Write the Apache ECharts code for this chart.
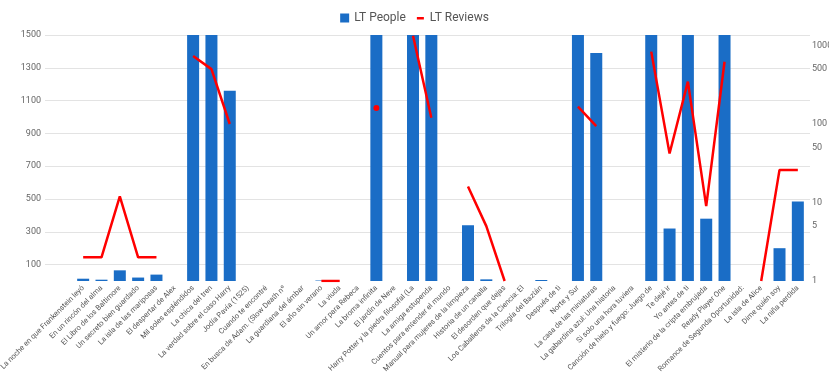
<!DOCTYPE html>
<html>
<head>
<meta charset="utf-8">
<script src="https://cdn.jsdelivr.net/npm/echarts@6/dist/echarts.min.js"></script>
<style>
  html, body { margin: 0; padding: 0; background: #fff; }
  #chart { width: 829px; height: 372px; }
</style>
</head>
<body>
<div id="chart"></div>
<script>
// Book titles along the horizontal axis
const books = [
  'La noche en que Frankenstein leyó',
  'En un rincón del alma',
  'El Libro de los Baltimore',
  'Un secreto bien guardado',
  'La isla de las mariposas',
  'El despertar de Alex',
  'Mil soles espléndidos',
  'La chica del tren',
  'La verdad sobre el caso Harry',
  'Jodía Pavía (1525)',
  'Cuando te encontré',
  'En busca de Adam. (Slow Death nº',
  'La guardiana del ámbar',
  'El año sin verano',
  'La viuda',
  'Un amor para Rebeca',
  'La broma infinita',
  'El jardín de Neve',
  'Harry Potter y la piedra filosofal (La',
  'La amiga estupenda',
  'Cuentos para entender el mundo',
  'Manual para mujeres de la limpieza',
  'Historia de un canalla',
  'El desorden que dejas',
  'Los Caballeros de la Ciencia: El',
  'Trilogía del Baztán',
  'Después de ti',
  'Norte y Sur',
  'La casa de las miniaturas',
  'La gabardina azul: Una historia',
  'Si solo una hora tuviera',
  'Canción de hielo y fuego: Juego de',
  'Te dejé ir',
  'Yo antes de ti',
  'El misterio de la cripta embrujada',
  'Ready Player One',
  'Romance de Segunda Oportunidad:',
  'La isla de Alice',
  'Dime quién soy',
  'La niña perdida'
];

// Number of LibraryThing members holding each book
const ltPeople = [
  14, 8, 65, 21, 39, null, 2400, 1900, 1160, null,
  null, null, null, 3, null, null, 1700, null, 9000, 2100,
  null, 340, 10, null, null, 6, null, 1600, 1390, null,
  null, 5200, 320, 2600, 380, 3800, null, null, 200, 485
];

// Number of LibraryThing reviews (log scale, right axis)
const ltReviews = [
  2, 2, 12, 2, 2, null, 735, 500, 100, null,
  null, null, null, 1, 1, null, 160, null, 1330, 120,
  null, 16, 5, 1, null, null, null, 166, 94, null,
  null, 835, 42, 346, 9, 620, null, 1, 26, 26
];

// Tick labels
const peopleTicks = [100, 300, 500, 700, 900, 1100, 1300, 1500];
const reviewTicks = [1, 5, 10, 50, 100, 500, 1000];

const FONT = 'Roboto, "Noto Sans", sans-serif';

// A review value with no neighbours is drawn as a dot
const reviewData = ltReviews.map((v, i) => {
  const prev = i > 0 ? ltReviews[i - 1] : null;
  const next = i < ltReviews.length - 1 ? ltReviews[i + 1] : null;
  if (v != null && prev == null && next == null) {
    return { value: v, symbol: 'circle', symbolSize: 6 };
  }
  return v;
});

// Short horizontal dash inside a 9x9 legend box
const DASH_ICON = 'path://M0,0L0,0ZM9,9L9,9ZM1,3.5H8V6H1Z';

const chart = echarts.init(document.getElementById('chart'), null, { renderer: 'canvas' });

chart.setOption({
  animation: false,
  backgroundColor: '#ffffff',
  textStyle: { fontFamily: FONT },
  legend: {
    top: 7,
    left: 'center',
    itemGap: 10,
    itemWidth: 9,
    itemHeight: 9,
    textStyle: { color: '#555', fontSize: 12, fontFamily: FONT },
    data: [
      { name: 'LT People', icon: 'rect' },
      { name: 'LT Reviews', icon: DASH_ICON }
    ]
  },
  grid: [
    // wide grid carrying the horizontal gridlines and the left labels
    { left: 45, right: 19, top: 35, bottom: 91, outerBoundsMode: 'none', containLabel: false },
    // plotting grid for bars and line
    { left: 74, right: 22, top: 35, bottom: 91, outerBoundsMode: 'none', containLabel: false }
  ],
  xAxis: [
    { type: 'category', gridIndex: 0, data: books, show: false },
    {
      type: 'category',
      gridIndex: 1,
      data: books,
      boundaryGap: true,
      axisLine: { show: false },
      axisTick: { show: false },
      axisLabel: {
        interval: 0,
        rotate: 45,
        margin: 6,
        fontSize: 7.5,
        color: '#555',
        fontFamily: FONT
      }
    }
  ],
  yAxis: [
    {
      type: 'value',
      gridIndex: 0,
      min: 0,
      max: 1500,
      interval: 100,
      axisLine: { show: false },
      axisTick: { show: false },
      axisLabel: {
        fontSize: 9,
        color: '#666',
        margin: 4,
        fontFamily: FONT,
        formatter: v => (peopleTicks.indexOf(v) >= 0 ? String(v) : '')
      },
      splitLine: {
        lineStyle: { color: ['rgba(0,0,0,0)', '#e3e3e3'], width: 1 }
      }
    },
    {
      type: 'value',
      gridIndex: 1,
      min: 0,
      max: 1500,
      show: false,
      splitLine: { show: false }
    },
    {
      type: 'log',
      gridIndex: 1,
      logBase: 10,
      min: 1,
      max: 1360,
      position: 'right',
      axisLine: { show: false },
      axisTick: { show: false },
      splitLine: { show: false },
      axisLabel: {
        fontSize: 9,
        color: '#666',
        margin: 5,
        fontFamily: FONT,
        customValues: reviewTicks,
        formatter: v => String(Math.round(v))
      }
    }
  ],
  series: [
    {
      name: 'LT People',
      type: 'bar',
      xAxisIndex: 1,
      yAxisIndex: 1,
      data: ltPeople,
      barWidth: 12,
      clip: true,
      itemStyle: { color: '#1a6dc6' }
    },
    {
      name: 'LT Reviews',
      type: 'line',
      xAxisIndex: 1,
      yAxisIndex: 2,
      data: reviewData,
      connectNulls: false,
      symbol: 'none',
      clip: true,
      lineStyle: { color: '#ff0000', width: 2.5 },
      itemStyle: { color: '#ff0000' }
    }
  ]
});
</script>
</body>
</html>
